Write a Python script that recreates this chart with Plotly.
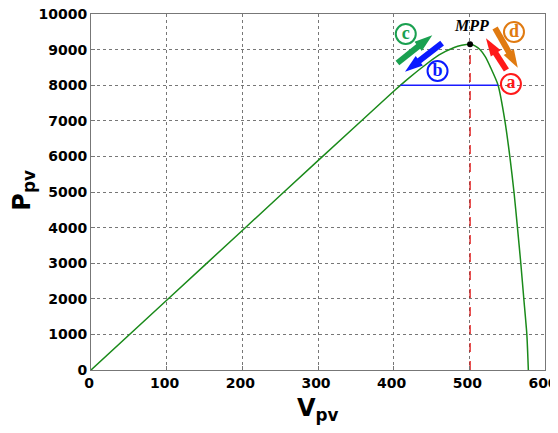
import plotly.graph_objects as go

# PV curve
V_pv = [0, 100, 200, 300, 400, 420, 440, 460, 480, 490, 501, 508, 514, 521, 528, 538, 547, 553.5, 559, 563.6, 568, 572, 576, 578]
P_pv = [0, 1960, 3920, 5880, 7830, 8200, 8540, 8850, 9060, 9120, 9150, 9100, 9000, 8800, 8500, 8000, 7000, 6000, 5000, 4000, 3000, 2000, 1000, 0]

mpp_v, mpp_p = 501, 9150
band_v = [409, 538]
band_p = [8000, 8000]

x_ticks = [0, 100, 200, 300, 400, 500, 600]
y_ticks = [0, 1000, 2000, 3000, 4000, 5000, 6000, 7000, 8000, 9000, 10000]
y_tick_text = [str(v) for v in y_ticks]

# arrows: tail (V, P) -> tip (V, P)   order: c (green), b (blue), a (red), d (orange)
arrow_tail_v = [405, 464, 549, 534]
arrow_tail_p = [8624, 9185, 8427, 9607]
arrow_head_v = [451, 415, 522, 564]
arrow_head_p = [9405, 8375, 9320, 8490]
arrow_colors = ["#1aa050", "#0a1aff", "#ff1a1a", "#e07a10"]

label_text = ["c", "b", "d", "a"]
label_v = [416, 458, 559, 555]
label_p = [9438, 8399, 9494, 8034]
label_colors = ["#1aa050", "#0a1aff", "#e07a10", "#ff1a1a"]

fig = go.Figure()
fig.add_trace(go.Scatter(x=V_pv, y=P_pv, mode="lines", line=dict(color="#1a8a1a", width=1.5, shape="spline", smoothing=0.6), showlegend=False))
fig.add_trace(go.Scatter(x=band_v, y=band_p, mode="lines", line=dict(color="#1a1aff", width=1.5), showlegend=False))
fig.add_trace(go.Scatter(x=[mpp_v, mpp_v], y=[0, mpp_p], mode="lines", line=dict(color="#dd0000", width=1.2, dash="dash"), showlegend=False))
fig.add_trace(go.Scatter(x=[mpp_v], y=[mpp_p], mode="markers", marker=dict(color="black", size=6), showlegend=False))

for tv, tp, hv, hp, c in zip(arrow_tail_v, arrow_tail_p, arrow_head_v, arrow_head_p, arrow_colors):
    fig.add_trace(go.Scatter(x=[tv, hv], y=[tp, hp], mode="lines+markers",
                             line=dict(color=c, width=6),
                             marker=dict(symbol="arrow", size=[0, 19], angleref="previous", color=c,
                                         opacity=1, line=dict(width=0)),
                             showlegend=False))

fig.add_trace(go.Scatter(x=label_v, y=label_p, mode="markers+text", text=["<b>%s</b>" % t for t in label_text],
                         textposition="middle center",
                         textfont=dict(family="Liberation Serif", size=18, color=label_colors),
                         marker=dict(symbol="circle-open", size=20, color=label_colors, line=dict(width=2, color=label_colors)),
                         showlegend=False))

fig.add_annotation(x=503, y=9691, text="<b><i>MPP</i></b>", showarrow=False,
                   font=dict(family="Liberation Serif", size=16, color="black"))

fig.add_annotation(x=-0.148, y=0.506, xref="paper", yref="paper", text="<b>P<sub>pv</sub></b>", textangle=-90,
                   xanchor="center", yanchor="middle",
                   showarrow=False, font=dict(family="DejaVu Sans", size=24, color="black"))
fig.add_annotation(x=0.5, y=-0.11, xref="paper", yref="paper", text="<b>V<sub>pv</sub></b>",
                   xanchor="center", yanchor="middle",
                   showarrow=False, font=dict(family="DejaVu Sans", size=24, color="black"))

axis_common = dict(showline=True, linecolor="#777", linewidth=1, mirror=True,
                   showgrid=True, gridcolor="#777", griddash="dot", gridwidth=1,
                   ticks="inside", ticklen=4, tickcolor="#777", zeroline=False, automargin=False,
                   ticklabeloverflow="allow")

fig.update_layout(
    width=558, height=433,
    margin=dict(l=83, r=21, t=6, b=71),
    plot_bgcolor="white", paper_bgcolor="white",
    xaxis=dict(range=[0, 600], tickvals=x_ticks, ticklabelshift=-2,
               tickfont=dict(family="DejaVu Sans", size=14, color="black", weight="bold"), **axis_common),
    yaxis=dict(range=[0, 10000], tickvals=y_ticks, ticktext=y_tick_text,
               tickfont=dict(family="DejaVu Sans", size=14, color="black", weight="bold"), **axis_common),
)

fig.write_html("out.html")
